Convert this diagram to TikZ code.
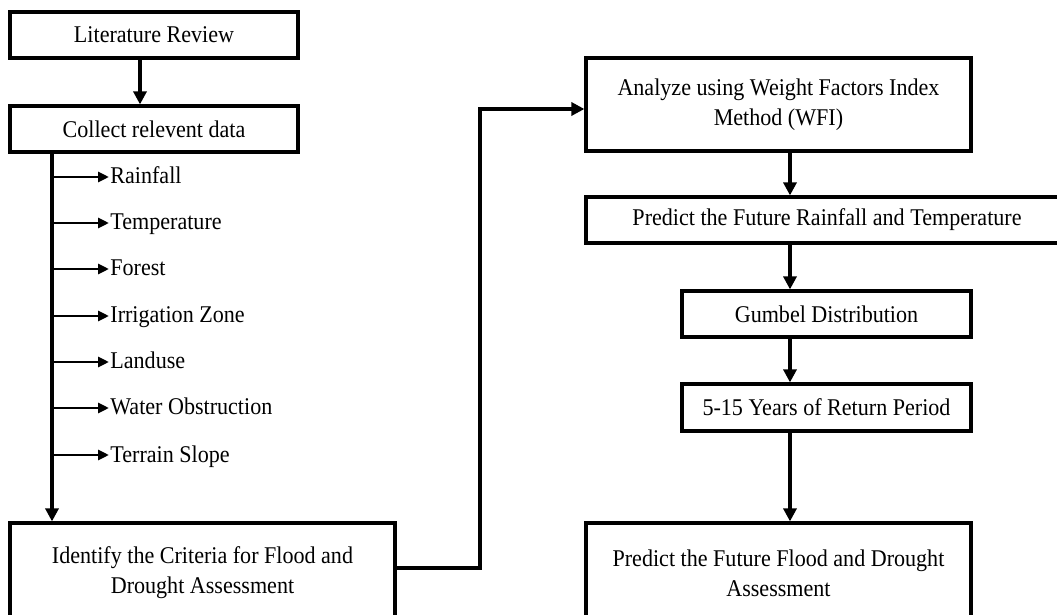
\documentclass[tikz,border=0pt]{standalone}
\usepackage{fontspec}
\setmainfont{Liberation Serif}[FakeStretch=0.92]
\usetikzlibrary{arrows.meta}
\begin{document}
\begin{tikzpicture}[x=0.5pt,y=-0.5pt,
  box/.style={draw,line width=1.6pt,inner sep=0pt,align=center,font=\fontsize{12}{15}\selectfont},
  itemtxt/.style={anchor=base west,inner sep=0pt,font=\fontsize{12}{14}\selectfont},
  arr/.style={line width=1.6pt,-{Triangle[length=6.5pt,width=6.5pt]}},
  sarr/.style={line width=1.4pt,-{Triangle[length=5.5pt,width=5pt]}}]
\useasboundingbox (0,0) rectangle (1057,615);
\clip (0,0) rectangle (1057,615);
\fill[white] (0,0) rectangle (1057,615);
% boxes
\node[box,minimum width=144pt,minimum height=23pt] (lit) at (154,35) {Literature Review};
\node[box,minimum width=144pt,minimum height=23pt] (col) at (154,129) {Collect relevent data};
\node[box,minimum width=192.5pt,minimum height=50pt] (ident) at (202.5,573) {Identify the Criteria for Flood and\\Drought Assessment};
\node[box,minimum width=192.5pt,minimum height=46.5pt] (ana) at (778.5,104.5) {Analyze using Weight Factors Index\\Method (WFI)};
\node[box,minimum width=241pt,minimum height=23pt] (prr) at (827,220) {Predict the Future Rainfall and Temperature};
\node[box,minimum width=144.5pt,minimum height=23pt] (gum) at (826.5,314) {Gumbel Distribution};
\node[box,minimum width=144.5pt,minimum height=23.5pt] (ret) at (826.5,407.5) {5-15 Years of Return Period};
\node[box,minimum width=192.5pt,minimum height=50pt] (pff) at (778.5,573) {Predict the Future Flood and Drought\\Assessment};
% item labels
\node[itemtxt] (i1) at (110,184) {Rainfall};
\node[itemtxt] (i2) at (110,230) {Temperature};
\node[itemtxt] (i3) at (110,276) {Forest};
\node[itemtxt] (i4) at (110,323) {Irrigation Zone};
\node[itemtxt] (i5) at (110,369) {Landuse};
\node[itemtxt] (i6) at (110,415) {Water Obstruction};
\node[itemtxt] (i7) at (110,462) {Terrain Slope};
% helper coordinates
\coordinate (xa) at (140,0);
\coordinate (xt) at (52,0);
\coordinate (xr) at (790,0);
\coordinate (c1) at (480,568);
\coordinate (c2) at (480,109);
% connectors
\draw[arr] (lit.south -| xa) -- (col.north -| xa);
\draw[arr] (col.south -| xt) -- (ident.north -| xt);
\foreach \n in {i1,i2,i3,i4,i5,i6,i7}{
  \draw[sarr] ([yshift=3.5pt]\n.base west -| xt) -- ([yshift=3.5pt,xshift=-0.5pt]\n.base west);
}
\draw[arr] (ident.east |- c1) -- (c1) -- (c2) -- (ana.west |- c2);
\draw[arr] (ana.south -| xr) -- (prr.north -| xr);
\draw[arr] (prr.south -| xr) -- (gum.north -| xr);
\draw[arr] (gum.south -| xr) -- (ret.north -| xr);
\draw[arr] (ret.south -| xr) -- (pff.north -| xr);
\end{tikzpicture}
\end{document}
